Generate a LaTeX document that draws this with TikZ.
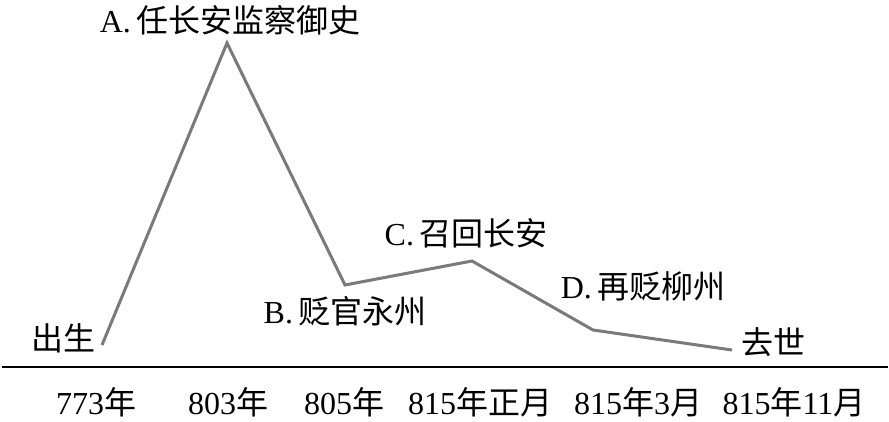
\documentclass[tikz,border=0pt]{standalone}
\usepackage{fontspec}
\setmainfont{Liberation Serif}
\newfontfamily\cjk{Noto Sans CJK SC}
\newcommand{\zh}[1]{{\cjk #1}}
\begin{document}
\begin{tikzpicture}[x=1pt,y=-1pt,
  lbl/.style={font=\fontsize{32}{34}\selectfont, inner sep=0pt, anchor=center},
  trend/.style={draw=black!52, line width=3pt, line join=miter},
  axis/.style={draw=black, line width=2pt}]
\useasboundingbox (0,0) rectangle (889,422);
% trend points
\coordinate (p0) at (102,345);
\coordinate (p1) at (227,43);
\coordinate (p2) at (345,285);
\coordinate (p3) at (472,261);
\coordinate (p4) at (593,330);
\coordinate (p5) at (732,350);
\draw[trend] (p0) -- (p1) -- (p2) -- (p3) -- (p4) -- (p5);
% axis
\coordinate (ax0) at (2,367);
\coordinate (ax1) at (888,367);
\draw[axis] (ax0) -- (ax1);
% event labels
\node[lbl] (la) at (230,20) {A.\,\zh{任长安监察御史}};
\node[lbl] (l0) at (63,338) {\zh{出生}};
\node[lbl] (lb) at (345,311) {B.\,\zh{贬官永州}};
\node[lbl] (lc) at (466,233) {C.\,\zh{召回长安}};
\node[lbl] (ld) at (643,286) {D.\,\zh{再贬柳州}};
\node[lbl] (l5) at (773,342) {\zh{去世}};
% year labels
\node[lbl] (y0) at (96,402) {773\zh{年}};
\node[lbl] (y1) at (228,402) {803\zh{年}};
\node[lbl] (y2) at (344,402) {805\zh{年}};
\node[lbl] (y3) at (480,402) {815\zh{年正月}};
\node[lbl] (y4) at (638,402) {815\zh{年}3\zh{月}};
\node[lbl] (y5) at (794,402) {815\zh{年}11\zh{月}};
\end{tikzpicture}
\end{document}
